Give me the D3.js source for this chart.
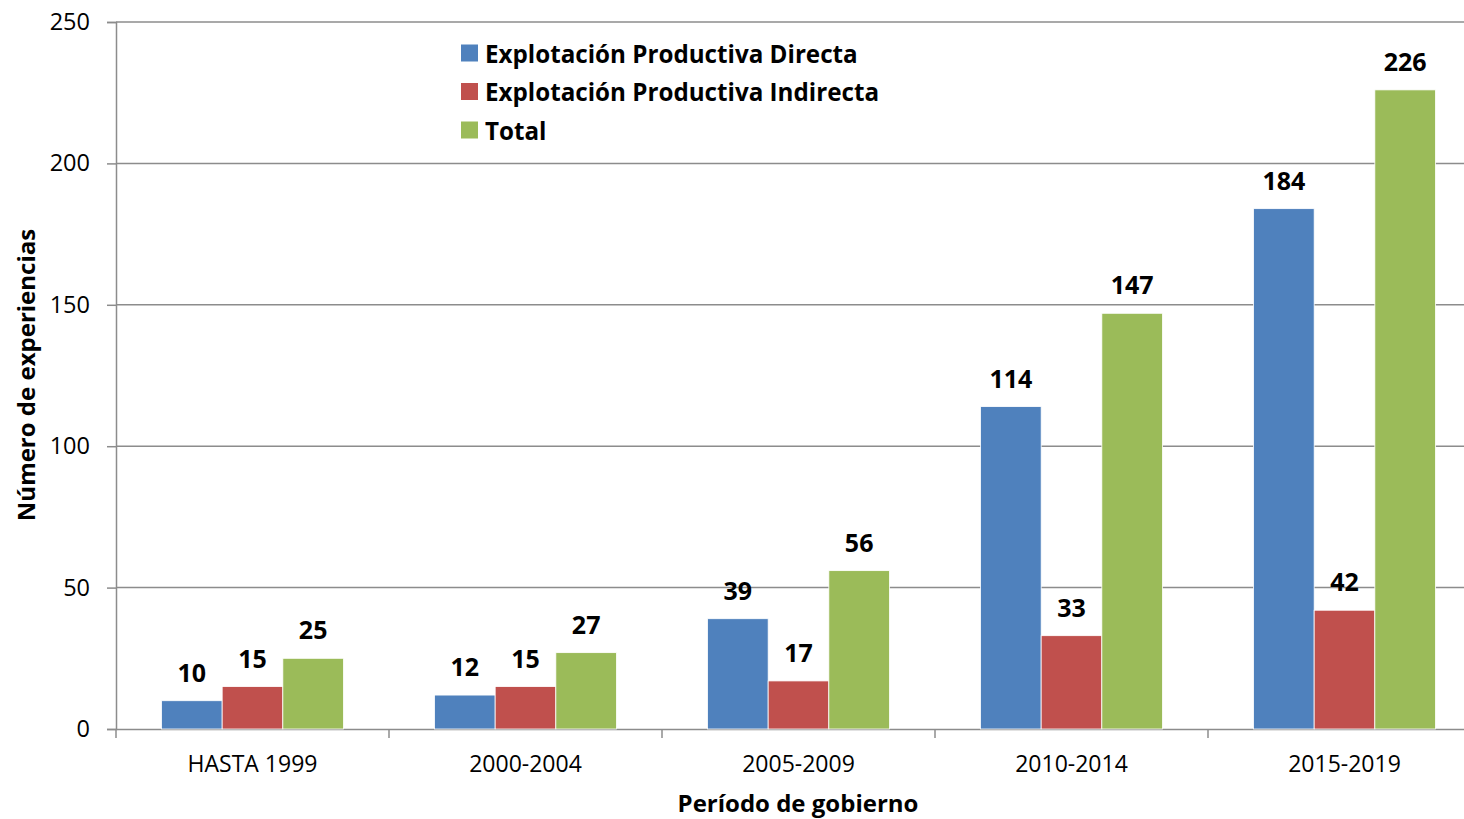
<!DOCTYPE html>
<html>
<head>
<meta charset="utf-8">
<script src="https://cdn.jsdelivr.net/npm/d3@7"></script>
<style>
  body { margin: 0; background: #fff; overflow: hidden; }
  text { font-family: "Open Sans", sans-serif; }
</style>
</head>
<body>
<div id="chart"></div>
<script>
'use strict'

// data
const periods = ['HASTA 1999', '2000-2004', '2005-2009', '2010-2014', '2015-2019'];
const seriesNames = ['Explotación Productiva Directa', 'Explotación Productiva Indirecta', 'Total'];
const directa = [10, 12, 39, 114, 184];
const indirecta = [15, 15, 17, 33, 42];
const total = [25, 27, 56, 147, 226];
const yTicks = [0, 50, 100, 150, 200, 250];

const colors = ['#4f81bd', '#c0504d', '#9bbb59'];

const width = 1464;
const height = 819;
const margin = { top: 22, left: 116, bottom: 90 };
const plotW = 1365; // runs past the right edge, as in the picture
const plotH = height - margin.top - margin.bottom;

const svg = d3.select('#chart').append('svg')
  .attr('width', width)
  .attr('height', height);

const g = svg.append('g')
  .attr('transform', `translate(${margin.left},${margin.top})`);

const x = d3.scaleBand()
  .domain(periods)
  .range([0, plotW])
  .paddingInner(0)
  .paddingOuter(0);

const x1 = d3.scaleBand()
  .domain(seriesNames)
  .range([0, x.bandwidth()])
  .paddingOuter(0.75)
  .paddingInner(0);

const y = d3.scaleLinear()
  .domain([0, 250])
  .range([plotH, 0]);

// gridlines
g.append('g')
  .selectAll('line')
  .data(yTicks.filter(d => d > 0))
  .join('line')
  .attr('x1', 0)
  .attr('x2', width)
  .attr('y1', d => y(d))
  .attr('y2', d => y(d))
  .attr('stroke', '#8c8c8c')
  .attr('stroke-width', 1.5);

// y axis
const yAxis = g.append('g')
  .call(d3.axisLeft(y).tickValues(yTicks).tickSize(9).tickPadding(17));
yAxis.select('.domain').attr('stroke', '#8c8c8c').attr('stroke-width', 1.5);
yAxis.selectAll('.tick line').attr('stroke', '#8c8c8c').attr('stroke-width', 1.5);
yAxis.selectAll('.tick text')
  .attr('font-size', 23.5)
  .attr('fill', '#000');

// x axis
const xAxis = g.append('g')
  .attr('transform', `translate(0,${plotH})`)
  .call(d3.axisBottom(x).tickSize(0).tickPadding(27));
xAxis.select('.domain').attr('stroke', '#8c8c8c').attr('stroke-width', 1.5);
xAxis.selectAll('.tick text')
  .attr('font-size', 23)
  .attr('fill', '#000');

// category separator ticks
g.append('g')
  .selectAll('line')
  .data(periods)
  .join('line')
  .attr('x1', d => x(d))
  .attr('x2', d => x(d))
  .attr('y1', plotH)
  .attr('y2', plotH + 9)
  .attr('stroke', '#8c8c8c')
  .attr('stroke-width', 1.5);

const rows = periods.map((p, i) => ({
  period: p,
  values: [directa[i], indirecta[i], total[i]]
}));

const groups = g.append('g')
  .selectAll('g')
  .data(rows)
  .join('g')
  .attr('transform', d => `translate(${x(d.period)},0)`);

groups.selectAll('rect')
  .data(d => d.values.map((v, j) => ({ name: seriesNames[j], value: v, j: j })))
  .join('rect')
  .attr('x', d => x1(d.name))
  .attr('y', d => y(d.value))
  .attr('width', x1.bandwidth())
  .attr('height', d => plotH - y(d.value))
  .attr('fill', d => colors[d.j])
  .attr('stroke', '#fff')
  .attr('stroke-width', 0.8);

groups.selectAll('text.value')
  .data(d => d.values.map((v, j) => ({ name: seriesNames[j], value: v })))
  .join('text')
  .attr('class', 'value')
  .attr('x', d => x1(d.name) + x1.bandwidth() / 2)
  .attr('y', d => y(d.value) - 29)
  .attr('text-anchor', 'middle')
  .attr('dominant-baseline', 'central')
  .attr('font-size', 25)
  .attr('font-weight', 'bold')
  .text(d => d.value);

// legend
const legend = svg.append('g')
  .attr('transform', 'translate(461,53)');

const legendItems = legend.selectAll('g')
  .data(seriesNames)
  .join('g')
  .attr('transform', (d, i) => `translate(0,${i * 38.5})`);

legendItems.append('rect')
  .attr('x', 0)
  .attr('y', -8.5)
  .attr('width', 17)
  .attr('height', 17)
  .attr('fill', (d, i) => colors[i]);

legendItems.append('text')
  .attr('x', 24)
  .attr('y', 0)
  .attr('dominant-baseline', 'central')
  .attr('font-size', 24.2)
  .attr('font-weight', 'bold')
  .text(d => d);

// axis titles
svg.append('text')
  .attr('transform', 'translate(25,375) rotate(-90)')
  .attr('text-anchor', 'middle')
  .attr('dominant-baseline', 'central')
  .attr('font-size', 24)
  .attr('font-weight', 'bold')
  .text('Número de experiencias');

svg.append('text')
  .attr('x', 798)
  .attr('y', 802)
  .attr('text-anchor', 'middle')
  .attr('dominant-baseline', 'central')
  .attr('font-size', 24)
  .attr('font-weight', 'bold')
  .text('Período de gobierno');
</script>
</body>
</html>
